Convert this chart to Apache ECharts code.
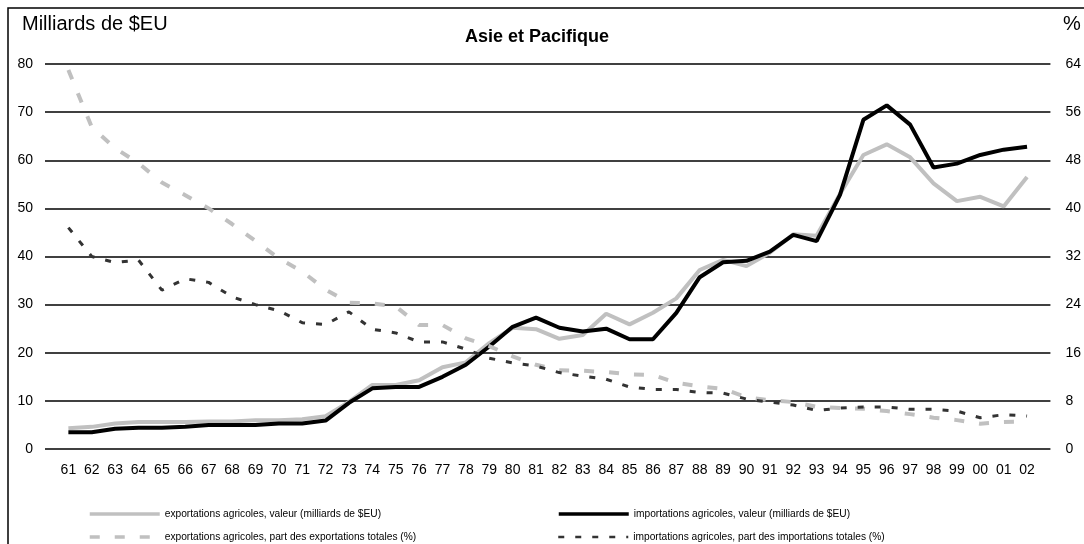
<!DOCTYPE html>
<html>
<head>
<meta charset="utf-8">
<script src="https://cdn.jsdelivr.net/npm/echarts@6/dist/echarts.min.js"></script>
<style>
html,body{margin:0;padding:0;background:#fff;}
#chart{width:1084px;height:544px;}
</style>
</head>
<body>
<div id="chart"></div>
<script>
const years = ['61','62','63','64','65','66','67','68','69','70','71','72','73','74','75','76','77','78','79','80','81','82','83','84','85','86','87','88','89','90','91','92','93','94','95','96','97','98','99','00','01','02'];

const exportsValue = [4.3,4.6,5.3,5.6,5.6,5.6,5.7,5.7,6.0,6.0,6.2,6.8,9.8,13.3,13.3,14.3,17.0,18.0,22.0,25.2,24.9,22.9,23.7,28.1,25.9,28.3,31.3,37.2,39.3,38.0,40.8,44.6,44.3,53.0,61.1,63.3,60.6,55.2,51.5,52.4,50.4,56.5];

const importsValue = [3.5,3.5,4.2,4.4,4.4,4.6,5.0,5.0,5.0,5.3,5.3,5.9,9.6,12.6,12.9,12.9,15.0,17.5,21.3,25.4,27.3,25.2,24.4,25.0,22.8,22.8,28.3,35.7,38.8,39.1,41.0,44.5,43.2,52.8,68.4,71.4,67.4,58.5,59.3,61.1,62.2,62.8];

const exportsShare = [63.0,53.5,50.0,47.5,44.3,42.2,40.0,37.4,34.6,31.7,29.5,26.5,24.3,24.2,23.7,20.6,20.6,18.4,17.1,15.4,14.0,13.1,13.0,12.8,12.4,12.3,11.0,10.4,10.0,8.6,8.1,7.8,7.0,6.8,6.7,6.3,5.8,5.2,4.8,4.2,4.5,4.6];

const importsShare = [36.8,32.0,31.0,31.4,26.4,28.3,27.7,25.3,24.0,23.0,21.0,20.7,22.8,19.9,19.3,17.8,17.8,16.6,15.1,14.3,13.8,12.7,12.1,11.6,10.3,9.9,9.9,9.4,9.3,8.3,7.8,7.3,6.4,6.8,7.0,7.0,6.6,6.6,6.3,5.2,5.7,5.5];

const leftTicks = [0,10,20,30,40,50,60,70,80];
const rightTicks = [0,8,16,24,32,40,48,56,64];

const names = [
  'exportations agricoles, valeur (milliards de $EU)',
  'importations agricoles, valeur (milliards de $EU)',
  'exportations agricoles, part des exportations totales (%)',
  'importations agricoles, part des importations totales (%)'
];

const pairs = arr => arr.map((v, i) => [i, v]);
const FONT = '"Liberation Sans", Arial, sans-serif';

const legendAt = (name, left, top, lw) => ({
  left: left, top: top, padding: 0, itemWidth: 70, itemHeight: 12,
  data: [name],
  itemStyle: { color: 'rgba(0,0,0,0)', borderColor: 'rgba(0,0,0,0)', borderWidth: 0 },
  lineStyle: { width: lw },
  textStyle: { fontFamily: FONT, fontSize: 10.2, color: '#000' }
});

const chart = echarts.init(document.getElementById('chart'));
chart.setOption({
  animation: false,
  backgroundColor: '#fff',
  textStyle: { fontFamily: FONT },
  title: {
    text: 'Asie et Pacifique',
    left: 532, top: 23, textAlign: 'center',
    textStyle: { fontFamily: FONT, fontSize: 18, fontWeight: 'bold', color: '#000' }
  },
  graphic: [
    { type: 'rect', shape: { x: 8, y: 8, width: 1200, height: 700 },
      style: { fill: 'none', stroke: '#000', lineWidth: 1.5 }, silent: true },
    { type: 'text', left: 22, top: 14,
      style: { text: 'Milliards de $EU', font: '20px ' + FONT, fill: '#000' } },
    { type: 'text', left: 1063, top: 14,
      style: { text: '%', font: '20px ' + FONT, fill: '#000' } }
  ],
  grid: { left: 45, right: 31, top: 64, bottom: 95 },
  legend: [
    legendAt(names[0], 88, 509, 3.5),
    legendAt(names[2], 88, 532, 3.5),
    legendAt(names[1], 557, 509, 3.5),
    legendAt(names[3], 557, 532, 2.5)
  ],
  xAxis: {
    type: 'value', min: -1, max: 42, interval: 1,
    axisLine: { show: false }, axisTick: { show: false }, splitLine: { show: false },
    axisLabel: {
      fontFamily: FONT, fontSize: 14, color: '#000', margin: 14,
      showMinLabel: true, showMaxLabel: true,
      formatter: v => (years[v] !== undefined ? years[v] : '')
    }
  },
  yAxis: [
    {
      type: 'value', min: leftTicks[0], max: leftTicks[leftTicks.length - 1], interval: 10,
      axisLine: { show: false }, axisTick: { show: false },
      axisLabel: { fontFamily: FONT, fontSize: 14, color: '#000', margin: 12 },
      splitLine: { show: true, lineStyle: { color: '#000', width: 1.5 } }
    },
    {
      type: 'value', min: rightTicks[0], max: rightTicks[rightTicks.length - 1], interval: 8,
      position: 'right',
      axisLine: { show: false }, axisTick: { show: false },
      axisLabel: { fontFamily: FONT, fontSize: 14, color: '#000', margin: 15 },
      splitLine: { show: false }
    }
  ],
  series: [
    {
      name: names[0], type: 'line', yAxisIndex: 0, data: pairs(exportsValue),
      symbol: 'none', color: '#c0c0c0', z: 2,
      lineStyle: { color: '#c0c0c0', width: 4 }
    },
    {
      name: names[1], type: 'line', yAxisIndex: 0, data: pairs(importsValue),
      symbol: 'none', color: '#000', z: 3,
      lineStyle: { color: '#000', width: 4 }
    },
    {
      name: names[2], type: 'line', yAxisIndex: 1, data: pairs(exportsShare),
      symbol: 'none', color: '#c0c0c0', z: 4,
      lineStyle: { color: '#c0c0c0', width: 4, type: [10, 15], cap: 'butt' }
    },
    {
      name: names[3], type: 'line', yAxisIndex: 1, data: pairs(importsShare),
      symbol: 'none', color: '#333', z: 5,
      lineStyle: { color: '#333', width: 3, type: [6, 11], cap: 'butt' }
    }
  ]
});
</script>
</body>
</html>
